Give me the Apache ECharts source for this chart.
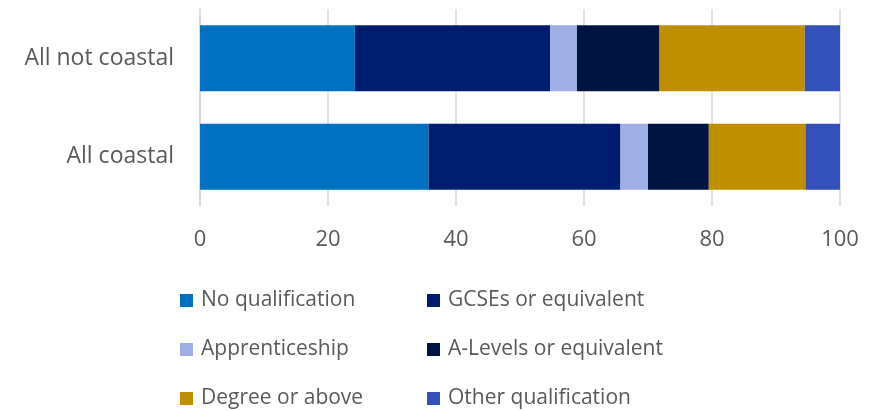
<!DOCTYPE html>
<html>
<head>
<meta charset="utf-8">
<script src="https://cdn.jsdelivr.net/npm/echarts@6/dist/echarts.min.js"></script>
<style>
html, body { margin: 0; padding: 0; background: #ffffff; }
#chart { width: 881px; height: 411px; }
</style>
</head>
<body>
<div id="chart"></div>
<script>
// categories, bottom to top as ECharts lays them out
var areas = ['All coastal', 'All not coastal'];

var seriesNames = ['No qualification', 'GCSEs or equivalent', 'Apprenticeship',
                   'A-Levels or equivalent', 'Degree or above', 'Other qualification'];

// percentages per area, same order as "areas"
var noQualification = [35.7, 24.2];
var gcses           = [30.0, 30.5];
var apprenticeship  = [4.3, 4.2];
var aLevels         = [9.5, 12.9];
var degree          = [15.1, 22.7];
var otherQual       = [5.4, 5.5];

var colors = ['#0070C0', '#001C6F', '#9FAEE5', '#001442', '#BF8F00', '#3450BA'];

var values = [noQualification, gcses, apprenticeship, aLevels, degree, otherQual];

var font = 'Open Sans';
var textColor = '#595959';

var series = [];
for (var i = 0; i < seriesNames.length; i++) {
    series.push({
        name: seriesNames[i],
        type: 'bar',
        stack: 'total',
        barCategoryGap: '33%',
        data: values[i],
        itemStyle: { color: colors[i] }
    });
}

var myChart = echarts.init(document.getElementById('chart'));

var legendText = { color: textColor, fontSize: 21, fontFamily: font, padding: [0, 0, 0, 3] };

var option = {
    animation: false,
    color: colors,
    grid: {
        left: 200,
        right: 41,
        top: 9,
        bottom: 205,
        containLabel: false
    },
    legend: [
        {
            orient: 'vertical',
            left: 180,
            top: 290,
            height: 200,
            padding: 0,
            itemWidth: 13,
            itemHeight: 13,
            itemGap: 28,
            icon: 'rect',
            data: [seriesNames[0], seriesNames[2], seriesNames[4]],
            textStyle: legendText
        },
        {
            orient: 'vertical',
            left: 427,
            top: 290,
            height: 200,
            padding: 0,
            itemWidth: 13,
            itemHeight: 13,
            itemGap: 28,
            icon: 'rect',
            data: [seriesNames[1], seriesNames[3], seriesNames[5]],
            textStyle: legendText
        }
    ],
    xAxis: {
        type: 'value',
        min: 0,
        max: 100,
        interval: 20,
        axisLine: { show: false },
        axisTick: { show: false },
        splitLine: { lineStyle: { color: '#D9D9D9', width: 1.5 } },
        axisLabel: {
            color: textColor,
            fontSize: 22,
            fontFamily: font,
            margin: 23
        }
    },
    yAxis: {
        type: 'category',
        data: areas,
        axisLine: { show: true, lineStyle: { color: '#D9D9D9', width: 1.5 } },
        axisTick: { show: false },
        axisLabel: {
            color: textColor,
            fontSize: 23,
            fontFamily: font,
            margin: 26
        }
    },
    series: series
};

myChart.setOption(option);
</script>
</body>
</html>
